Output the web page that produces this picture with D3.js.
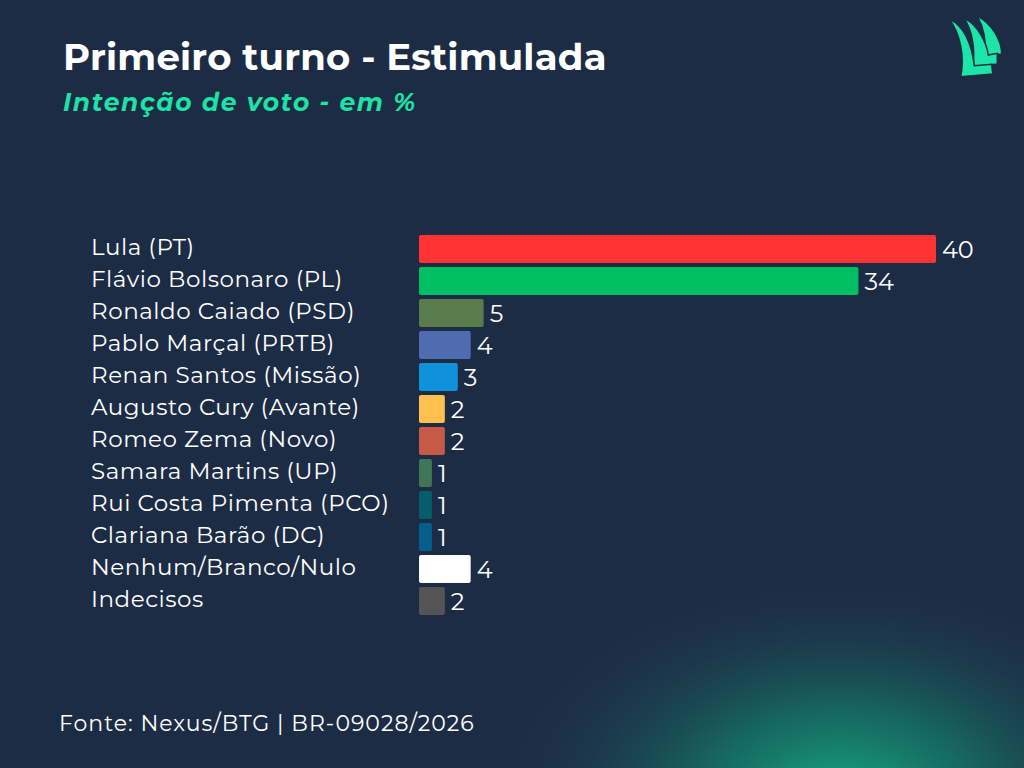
<!DOCTYPE html>
<html>
<head>
<meta charset="utf-8">
<script src="https://cdn.jsdelivr.net/npm/d3@7"></script>
<style>
  html, body { margin: 0; padding: 0; background: #1d2c45; }
  svg { display: block; }
</style>
</head>
<body>
<script>
// data
const candidates = ['Lula (PT)', 'Flávio Bolsonaro (PL)', 'Ronaldo Caiado (PSD)', 'Pablo Marçal (PRTB)',
  'Renan Santos (Missão)', 'Augusto Cury (Avante)', 'Romeo Zema (Novo)', 'Samara Martins (UP)',
  'Rui Costa Pimenta (PCO)', 'Clariana Barão (DC)', 'Nenhum/Branco/Nulo', 'Indecisos'];
const votes = [40, 34, 5, 4, 3, 2, 2, 1, 1, 1, 4, 2];
const barColors = ['#ff3333', '#00bf63', '#5a7b4b', '#4f6cb0', '#0f91dc', '#ffc04d',
  '#c65a47', '#3f7657', '#045e6c', '#055e8b', '#ffffff', '#545454'];

const title = 'Primeiro turno - Estimulada';
const subtitle = 'Intenção de voto - em %';
const source = 'Fonte: Nexus/BTG | BR-09028/2026';

const W = 1024, H = 768;
const font = 'Montserrat, Lato, "Open Sans", sans-serif';

const svg = d3.select('body').append('svg')
  .attr('width', W)
  .attr('height', H);

const defs = svg.append('defs');
const glow = defs.append('radialGradient').attr('id', 'glow');
glow.append('stop').attr('offset', '0%').attr('stop-color', '#16ad80').attr('stop-opacity', 1);
glow.append('stop').attr('offset', '40%').attr('stop-color', '#138a70').attr('stop-opacity', 0.6);
glow.append('stop').attr('offset', '100%').attr('stop-color', '#1d2c45').attr('stop-opacity', 0);

svg.append('rect').attr('width', W).attr('height', H).attr('fill', '#1d2c45');
svg.append('ellipse')
  .attr('cx', 840).attr('cy', 800)
  .attr('rx', 360).attr('ry', 230)
  .attr('fill', 'url(#glow)');

// header
svg.append('text')
  .attr('x', 63).attr('y', 70)
  .attr('fill', '#ffffff')
  .style('font-family', font)
  .style('font-weight', 700)
  .style('font-size', '37px')
  .style('letter-spacing', '0.2px')
  .text(title);

svg.append('text')
  .attr('x', 63).attr('y', 111)
  .attr('fill', '#1ee3a6')
  .style('font-family', font)
  .style('font-weight', 700)
  .style('font-style', 'italic')
  .style('font-size', '25px')
  .style('letter-spacing', '1.6px')
  .text(subtitle);

// logo: three sails drawn back to front
const logo = svg.append('g').attr('fill', '#1de5a8').attr('stroke', '#1d2c45').attr('stroke-width', 1.5);
const sails = [
  'M977.3,16 C991.7,23.3 1001.7,40 1001.7,54 L985,56 C986.7,40 983.3,26.7 977.3,16 Z',
  'M964.3,18.3 C978.3,25 986.7,43.3 988.3,55 L997.3,53.3 L997.3,64 L973.3,66.7 C975,46.7 971.7,30 964.3,18.3 Z',
  'M949.3,19.3 C963.3,25 971.7,43.3 974.3,65.7 L991.7,64.3 L992.7,74 L960.7,76.7 C965,56.7 960,33.3 949.3,19.3 Z'
];
logo.selectAll('path').data(sails).join('path').attr('d', d => d);

// bars
const x = d3.scaleLinear().domain([0, 40]).range([419, 936]);
const y = d3.scaleBand().domain(candidates).range([235, 615]).paddingInner(0.125);

const rows = candidates.map((name, i) => ({name: name, value: votes[i], color: barColors[i]}));

const g = svg.append('g');

g.selectAll('rect.bar').data(rows).join('rect')
  .attr('class', 'bar')
  .attr('x', x(0))
  .attr('y', d => y(d.name))
  .attr('width', d => x(d.value) - x(0))
  .attr('height', y.bandwidth())
  .attr('rx', 2)
  .attr('fill', d => d.color);

g.selectAll('text.name').data(rows).join('text')
  .attr('class', 'name')
  .attr('x', 91)
  .attr('y', d => y(d.name) + y.bandwidth() / 2 - 2)
  .attr('dy', '0.35em')
  .attr('fill', '#ffffff')
  .style('font-family', font)
  .style('font-size', '23px')
  .style('letter-spacing', '0.55px')
  .text(d => d.name);

g.selectAll('text.value').data(rows).join('text')
  .attr('class', 'value')
  .attr('x', d => x(d.value) + 6)
  .attr('y', d => y(d.name) + y.bandwidth() / 2 + 1)
  .attr('dy', '0.35em')
  .attr('fill', '#ffffff')
  .style('font-family', font)
  .style('font-size', '24px')
  .text(d => d.value);

// footer
svg.append('text')
  .attr('x', 59).attr('y', 731)
  .attr('fill', '#ffffff')
  .style('font-family', font)
  .style('font-size', '22px')
  .style('letter-spacing', '1px')
  .text(source);
</script>
</body>
</html>
